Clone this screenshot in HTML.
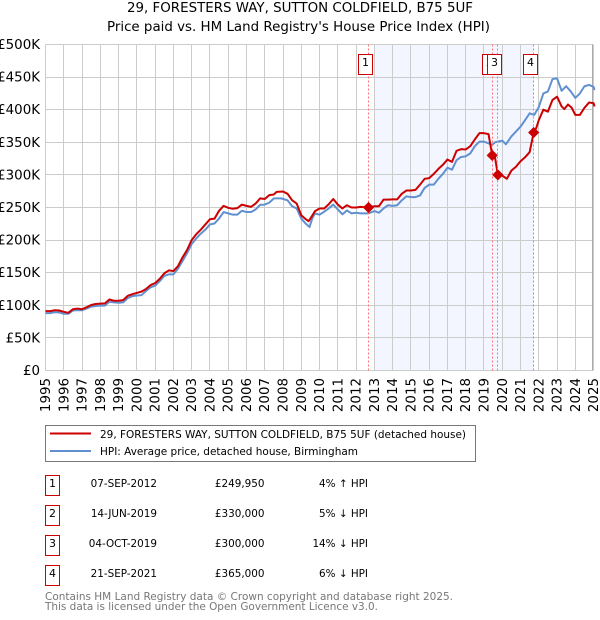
<!DOCTYPE html>
<html>
<head>
<meta charset="utf-8">
<style>
html,body{margin:0;padding:0;background:#fff;}
#wrap{position:relative;width:600px;height:620px;overflow:hidden;}
svg{position:absolute;left:0;top:0;}
text{font-family:"DejaVu Sans","Liberation Sans",sans-serif;fill:#000;}
</style>
</head>
<body>
<div id="wrap">
<svg id="chart" width="600" height="620" viewBox="0 0 600 620">
<text x="300" y="12" text-anchor="middle" font-size="13" textLength="346" lengthAdjust="spacingAndGlyphs">29, FORESTERS WAY, SUTTON COLDFIELD, B75 5UF</text>
<text x="298.5" y="31" text-anchor="middle" font-size="13" textLength="383" lengthAdjust="spacingAndGlyphs">Price paid vs. HM Land Registry's House Price Index (HPI)</text>
<rect x="374" y="44.5" width="160" height="326" fill="#f3f6ff"/>
<g id="grid"></g>
<g id="series"></g>
<g id="sales"></g>

<g>
<rect x="45.5" y="425.5" width="430" height="36" fill="#fff" stroke="#777" stroke-width="1"/>
<line x1="50" x2="91" y1="433.5" y2="433.5" stroke="#cc0000" stroke-width="2"/>
<line x1="50" x2="91" y1="451" y2="451" stroke="#6090d0" stroke-width="2"/>
<text x="100" y="438" font-size="11" textLength="366" lengthAdjust="spacingAndGlyphs">29, FORESTERS WAY, SUTTON COLDFIELD, B75 5UF (detached house)</text>
<text x="100" y="455" font-size="11" textLength="258" lengthAdjust="spacingAndGlyphs">HPI: Average price, detached house, Birmingham</text>
</g>

<g font-size="10.4">
<g>
<rect x="45.5" y="475.5" width="14" height="20" fill="#fff" stroke="#cc0000"/>
<text x="52.5" y="487" text-anchor="middle" font-size="11">1</text>
<text x="157" y="487" text-anchor="end">07-SEP-2012</text>
<text x="264.5" y="487" text-anchor="end">£249,950</text>
<text x="368" y="487" text-anchor="end">4% ↑ HPI</text>
</g>
<g>
<rect x="45.5" y="505.5" width="14" height="20" fill="#fff" stroke="#cc0000"/>
<text x="52.5" y="517" text-anchor="middle" font-size="11">2</text>
<text x="157" y="517" text-anchor="end">14-JUN-2019</text>
<text x="264.5" y="517" text-anchor="end">£330,000</text>
<text x="368" y="517" text-anchor="end">5% ↓ HPI</text>
</g>
<g>
<rect x="45.5" y="535.5" width="14" height="20" fill="#fff" stroke="#cc0000"/>
<text x="52.5" y="547" text-anchor="middle" font-size="11">3</text>
<text x="157" y="547" text-anchor="end">04-OCT-2019</text>
<text x="264.5" y="547" text-anchor="end">£300,000</text>
<text x="368" y="547" text-anchor="end">14% ↓ HPI</text>
</g>
<g>
<rect x="45.5" y="565.5" width="14" height="20" fill="#fff" stroke="#cc0000"/>
<text x="52.5" y="577" text-anchor="middle" font-size="11">4</text>
<text x="157" y="577" text-anchor="end">21-SEP-2021</text>
<text x="264.5" y="577" text-anchor="end">£365,000</text>
<text x="368" y="577" text-anchor="end">6% ↓ HPI</text>
</g>
</g>

<text x="45" y="600" font-size="11" style="fill:#777" textLength="408" lengthAdjust="spacingAndGlyphs">Contains HM Land Registry data © Crown copyright and database right 2025.</text>
<text x="45" y="610" font-size="11" style="fill:#777" textLength="333" lengthAdjust="spacingAndGlyphs">This data is licensed under the Open Government Licence v3.0.</text>
</svg>
</div>
<script>
const yearTicks = [1995,1996,1997,1998,1999,2000,2001,2002,2003,2004,2005,2006,2007,2008,2009,2010,2011,2012,2013,2014,2015,2016,2017,2018,2019,2020,2021,2022,2023,2024,2025];
const valueTicks = [0,50,100,150,200,250,300,350,400,450,500];
const valueTickLabels = ['£0','£50K','£100K','£150K','£200K','£250K','£300K','£350K','£400K','£450K','£500K'];

const priceDates = [1995,1995.25,1995.5,1995.75,1996,1996.25,1996.5,1996.75,1997,1997.25,1997.5,1997.75,1998,1998.25,1998.5,1998.75,1999,1999.25,1999.5,1999.75,2000,2000.25,2000.5,2000.75,2001,2001.25,2001.5,2001.75,2002,2002.25,2002.5,2002.75,2003,2003.25,2003.5,2003.75,2004,2004.25,2004.5,2004.75,2005,2005.25,2005.5,2005.75,2006,2006.25,2006.5,2006.75,2007,2007.25,2007.5,2007.65,2008,2008.25,2008.5,2008.75,2009,2009.25,2009.4,2009.5,2009.75,2010,2010.25,2010.5,2010.75,2011,2011.25,2011.5,2011.75,2012,2012.25,2012.68,2013,2013.25,2013.5,2013.75,2014,2014.25,2014.5,2014.75,2015,2015.25,2015.5,2015.75,2016,2016.25,2016.5,2016.75,2017,2017.25,2017.5,2017.75,2018,2018.25,2018.5,2018.75,2019,2019.25,2019.45,2019.6,2019.76,2020,2020.25,2020.5,2020.75,2021,2021.25,2021.5,2021.72,2021.85,2022,2022.25,2022.5,2022.75,2023,2023.25,2023.4,2023.6,2023.8,2024,2024.25,2024.5,2024.75,2025,2025.05];
const priceValues = [91,91,92.5,92,90,88.5,94,95,94,97,100.5,102,102.5,103,109,107,107,108,114.5,117,119,121,125,131,134,140.5,149,153.5,152.5,160,173.5,185,200,209,216,224,232,233,245,252.5,249.5,248,249,254.5,252.5,251,256,264,263,269,270,274,274.5,271,261,256,238,232,229,233,244.5,248.5,248.5,255,263,254.5,248.5,253.5,250,250,251,249.95,252,252,262,262,262.5,262.5,271,276,276,277,285,294,295,301.5,309,315.5,323.5,320,337,339.5,339,344,354.5,364,364,362.5,330,327.5,300,299,294,306.5,312.5,321,327,335,365,371,384,400,397,415,420,405,401,408,403,392,392,403,411,410,405];

const hpiDates = [1995,1995.25,1995.5,1995.75,1996,1996.25,1996.5,1996.75,1997,1997.25,1997.5,1997.75,1998,1998.25,1998.5,1998.75,1999,1999.25,1999.5,1999.75,2000,2000.25,2000.5,2000.75,2001,2001.25,2001.5,2001.75,2002,2002.25,2002.5,2002.75,2003,2003.25,2003.5,2003.75,2004,2004.25,2004.5,2004.75,2005,2005.25,2005.5,2005.75,2006,2006.25,2006.5,2006.75,2007,2007.25,2007.5,2007.9,2008.25,2008.5,2008.75,2009,2009.25,2009.45,2009.6,2009.75,2010,2010.25,2010.5,2010.75,2011,2011.25,2011.5,2011.75,2012,2012.25,2012.68,2013,2013.25,2013.5,2013.75,2014,2014.25,2014.5,2014.75,2015,2015.25,2015.5,2015.75,2016,2016.25,2016.5,2016.75,2017,2017.25,2017.5,2017.75,2018,2018.25,2018.5,2018.75,2019,2019.25,2019.45,2019.6,2019.76,2020,2020.2,2020.5,2020.75,2021,2021.25,2021.5,2021.75,2022,2022.25,2022.5,2022.75,2023,2023.25,2023.5,2023.75,2024,2024.25,2024.5,2024.75,2025,2025.05];
const hpiValues = [88,88,89.5,89,87,87,92,92.5,92.5,95,98,99,99.5,99.5,105.5,104.5,104,104.5,111,114,115,115.5,122,127.5,130,137,145,147.5,147.5,156,168,180,194,202.5,210,216,224,225.5,233,243,241,239,239,245,243,243,247,254,254.5,257.5,264,264,261,252,248.5,233,225,220,233,241,239,243.5,248.5,254.5,247,239.5,245.5,241,242,241,241,244.5,242,248.5,253.5,252.5,253.5,261,267,266,266,268.5,280,285,285,294,301.5,311,308,322.5,327.5,328.5,333,344,351,351,348.5,346,350,351,352.5,347,359,366.5,374,384,394.5,392,404,425,428,447,448,429,436,428,418,425,436,438,435,430];

const saleDates = [2012.68,2019.45,2019.76,2021.72];
const salePrices = [249.95,330,300,365];
const saleNumbers = ['1','2','3','4'];

const NS = 'http://www.w3.org/2000/svg';
function xScale(year){ return 45.5 + (year - 1995) * 18.27; }
function yScale(k){ return 370.5 - k * 0.652; }
function snap(v){ return Math.floor(v) + 0.5; }
function make(tag, attrs, parent){
  const el = document.createElementNS(NS, tag);
  for (const k in attrs) el.setAttribute(k, attrs[k]);
  parent.appendChild(el);
  return el;
}
const gridLayer = document.getElementById('grid');
const seriesLayer = document.getElementById('series');
const salesLayer = document.getElementById('sales');

valueTicks.forEach(function(v, i){
  const y = snap(yScale(v));
  const line = make('line', {x1:45.5, x2:593, y1:y, y2:y, stroke:'#cccccc', 'stroke-width':1}, gridLayer);
  
  
  const label = make('text', {x:40, y:yScale(v)+4.5, 'text-anchor':'end', 'font-size':13.4}, gridLayer);
  label.textContent = valueTickLabels[i];
  
  
});
yearTicks.forEach(function(yr){
  const x = snap(xScale(yr));
  const line = make('line', {x1:x, x2:x, y1:44.5, y2:370.5, stroke:'#cccccc', 'stroke-width':1}, gridLayer);
  
  
  const px = xScale(yr) + 4.5;
  const label = make('text', {x:px, y:378, 'text-anchor':'end', 'font-size':13.4, transform:'rotate(-90 '+px+' 378)'}, gridLayer);
  label.textContent = String(yr);
  
  
});
const rightEdge = make('line', {x1:592.5, x2:592.5, y1:44.5, y2:370.5, stroke:'#aaaaaa', 'stroke-width':1}, gridLayer);



function linePath(dates, values){
  return dates.map(function(d, i){
    return (i ? 'L' : 'M') + xScale(d).toFixed(2) + ' ' + yScale(values[i]).toFixed(2);
  }).join(' ');
}
const hpiLine = make('path', {d:linePath(hpiDates, hpiValues), fill:'none', stroke:'#6090d0', 'stroke-width':2, 'stroke-linejoin':'round'}, seriesLayer);


const priceLine = make('path', {d:linePath(priceDates, priceValues), fill:'none', stroke:'#cc0000', 'stroke-width':2, 'stroke-linejoin':'round'}, seriesLayer);



saleDates.forEach(function(d){
  const x = snap(xScale(d));
  const guide = make('line', {x1:x, x2:x, y1:44.5, y2:370.5, stroke:'#ff7777', 'stroke-width':1, 'stroke-dasharray':'2 2'}, salesLayer);
  
  
});
saleDates.forEach(function(d, i){
  const x = xScale(d);
  const y = yScale(salePrices[i]);
  const r = 5.6;
  const marker = make('polygon', {points:x+','+(y-r)+' '+(x+r)+','+y+' '+x+','+(y+r)+' '+(x-r)+','+y, fill:'#cc0000'}, salesLayer);
  
  
});
saleDates.forEach(function(d, i){
  const cx = snap(xScale(d)) - 3;
  const box = make('rect', {x:cx-7, y:54.5, width:14, height:20, fill:'#fff', stroke:'#cc0000', 'stroke-width':1}, salesLayer);
  
  
  const label = make('text', {x:cx, y:66, 'text-anchor':'middle', 'font-size':11}, salesLayer);
  label.textContent = saleNumbers[i];
  
  
});
</script>
</body>
</html>
